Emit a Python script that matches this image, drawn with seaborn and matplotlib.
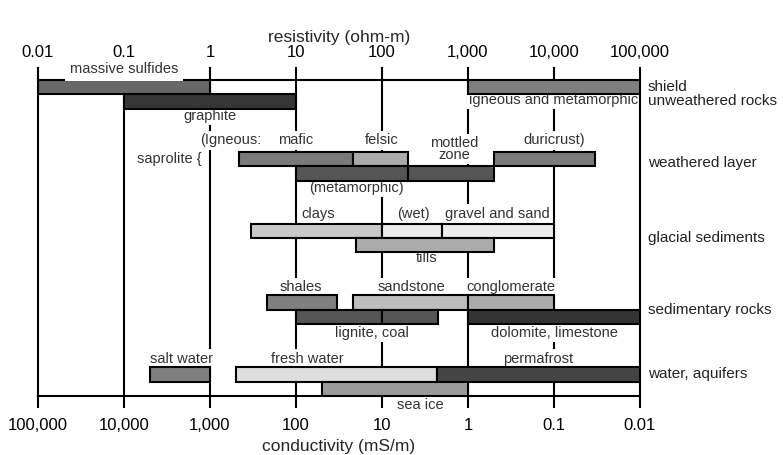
import matplotlib
matplotlib.use("Agg")
import matplotlib.pyplot as plt
from matplotlib.ticker import FixedLocator, FuncFormatter, NullLocator
from matplotlib.transforms import blended_transform_factory
import pandas as pd
import seaborn as sns

# Bar data: resistivity ranges in ohm-m
names = ["massive sulfides", "shield", "graphite",
         "mafic", "felsic", "duricrust", "metamorphic", "mottled zone",
         "clays", "wet", "gravel and sand", "tills",
         "shales", "sandstone", "conglomerate", "lignite", "coal", "dolomite, limestone",
         "salt water", "fresh water", "permafrost", "sea ice"]
low = [0.01, 1000, 0.1,
       2.2, 46, 2000, 10, 200,
       3, 100, 500, 50,
       4.6, 46, 1000, 10, 100, 1000,
       0.2, 2, 440, 20]
high = [1, 100000, 10,
        46, 200, 30000, 200, 2000,
        100, 500, 10000, 2000,
        30, 1000, 10000, 100, 450, 100000,
        1, 440, 100000, 1000]
group = [0, 0, 0,
         1, 1, 1, 1, 1,
         2, 2, 2, 2,
         3, 3, 3, 3, 3, 3,
         4, 4, 4, 4]
row = [0, 0, 1,
       0, 0, 0, 1, 1,
       0, 0, 0, 1,
       0, 0, 0, 1, 1, 1,
       0, 0, 0, 1]
shade = ["#686868", "#7e7e7e", "#363636",
         "#7a7a7a", "#ababab", "#7a7a7a", "#555555", "#555555",
         "#c8c8c8", "#ececec", "#ececec", "#ababab",
         "#808080", "#bdbdbd", "#ababab", "#555555", "#555555", "#343434",
         "#808080", "#dedede", "#444444", "#9a9a9a"]

group_names = ["shield\nunweathered rocks", "weathered layer", "glacial sediments",
               "sedimentary rocks", "water, aquifers"]
group_label_y = [0.97, 5.8, 11.0, 16.0, 20.5]

# annotation text, resistivity position, row position
notes = [("graphite", 1, 2.5),
         ("igneous and metamorphic", 10000, 1.4),
         ("(Igneous:", 1.75, 4.2), ("mafic", 10, 4.2), ("felsic", 100, 4.2),
         ("mottled\nzone", 700, 4.8), ("duricrust)", 10000, 4.2),
         ("(metamorphic)", 50, 7.5),
         ("clays", 18, 9.3), ("(wet)", 230, 9.3), ("gravel and sand", 2200, 9.3),
         ("tills", 330, 12.4),
         ("shales", 11.5, 14.4), ("sandstone", 220, 14.4), ("conglomerate", 3160, 14.4),
         ("lignite, coal", 77, 17.6), ("dolomite, limestone", 10000, 17.6),
         ("salt water", 0.47, 19.4), ("fresh water", 13.4, 19.4), ("permafrost", 6500, 19.4),
         ("sea ice", 277, 22.6)]

decades = [0.01, 0.1, 1, 10, 100, 1000, 10000, 100000]

df = pd.DataFrame({"name": names, "low": low, "high": high,
                   "group": group, "row": row, "shade": shade})
df["y"] = df["group"] * 5 + df["row"]

sns.set_style("white")
plt.rcParams["font.family"] = ["Liberation Sans", "DejaVu Sans"]

fig = plt.figure(figsize=(7.83, 4.55), dpi=100)
ax = fig.add_axes([38 / 783, 1 - 396 / 455, 602 / 783, 316 / 455])

ax.set_xscale("log")
ax.set_xlim(0.01, 100000)
ax.set_ylim(22, 0)

ax.vlines(decades[1:-1], 0, 22, color="black", lw=1.5, zorder=1)
ax.barh(df["y"], df["high"] - df["low"], left=df["low"], height=1, align="edge",
        color=df["shade"], edgecolor="black", lw=1.5, zorder=3)

box = dict(boxstyle="square,pad=0.15", fc="white", ec="none")
for txt, xv, yv in notes:
    ax.text(xv, yv, txt, ha="center", va="center", fontsize=10.5, color="#333333",
            linespacing=0.85, bbox=box, zorder=2)
ax.text(0.8, 5.5, "saprolite {", ha="right", va="center", fontsize=10.5,
        color="#333333", zorder=2)

for name, yv in zip(group_names, group_label_y):
    ax.text(1.013, yv, name, transform=ax.get_yaxis_transform(), ha="left",
            va="center", fontsize=11, color="#222222", linespacing=0.95)

for s in ax.spines.values():
    s.set_linewidth(1.5)
    s.set_color("black")

ax.set_yticks([])
ax.xaxis.set_major_locator(FixedLocator(decades))
ax.xaxis.set_minor_locator(NullLocator())


def fmt(v):
    return f"{v:,.0f}" if v >= 1 else f"{v:g}"


ax.xaxis.set_major_formatter(FuncFormatter(lambda x, p: fmt(1000 / x)))
ax.tick_params(axis="x", bottom=True, direction="out", length=8.5, width=1.5,
               pad=7, labelsize=12, colors="black")
ax.set_xlabel("conductivity (mS/m)", fontsize=12.5, labelpad=5)

ax2 = ax.twiny()
ax2.set_xscale("log")
ax2.set_xlim(ax.get_xlim())
ax2.xaxis.set_major_locator(FixedLocator(decades))
ax2.xaxis.set_minor_locator(NullLocator())
ax2.xaxis.set_major_formatter(FuncFormatter(lambda x, p: fmt(x)))
ax2.tick_params(axis="x", top=True, direction="out", length=9.5, width=1.5,
                pad=5, labelsize=12, colors="black")
ax2.set_xlabel("resistivity (ohm-m)", fontsize=12.5, labelpad=2)
for s in ax2.spines.values():
    s.set_visible(False)

# label above the top axis line, drawn on the top axes so it covers the 0.1 tick
top_tr = blended_transform_factory(ax2.transData, ax.transData)
ax2.text(0.1, -0.75, "massive sulfides", transform=top_tr, ha="center", va="center",
         fontsize=10.5, color="#333333", zorder=2,
         bbox=dict(boxstyle="square,pad=0.3", fc="white", ec="none"))

plt.savefig("out.png", dpi=100)
plt.close()
